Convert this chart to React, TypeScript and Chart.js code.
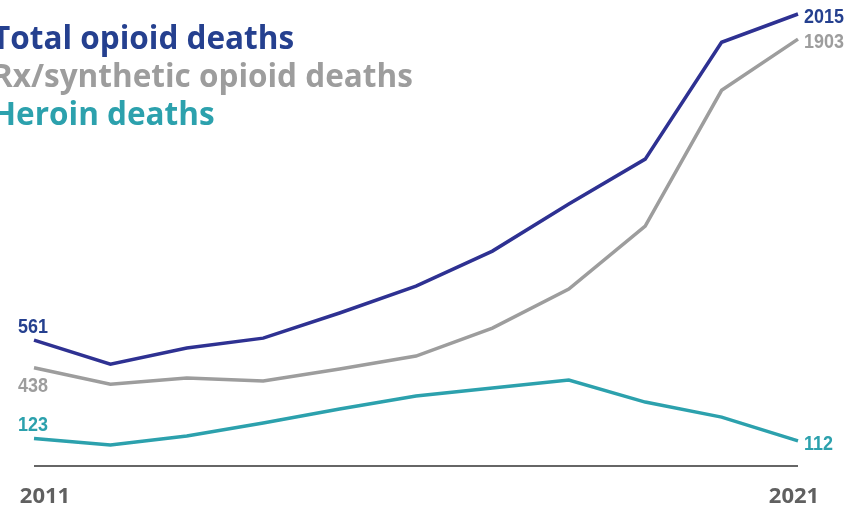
import React, { useEffect, useRef } from "react";
import { Chart, registerables } from "chart.js";

Chart.register(...registerables);

const years = ["2011", "2012", "2013", "2014", "2015", "2016", "2017", "2018", "2019", "2020", "2021"];
const totalDeaths = [561, 454, 526, 570, 682, 802, 958, 1168, 1368, 1889, 2015];
const rxDeaths = [438, 365, 392, 379, 432, 490, 615, 789, 1069, 1675, 1903];
const heroinDeaths = [123, 94, 134, 192, 254, 312, 348, 383, 285, 218, 112];
const seriesNames = ["Total opioid deaths", "Rx/synthetic opioid deaths", "Heroin deaths"];
const axisLabels = ["2011", "2021"];

const lineColors = ["#2e3192", "#9d9d9d", "#2ca1ad"];
const textColors = ["#25408f", "#9d9d9d", "#2ca1ad"];

function narrowText(ctx: any, text: string, x: number, y: number, align: "left" | "center") {
  const sx = 0.92;
  const w = ctx.measureText(text).width * sx;
  const left = align === "center" ? x - w / 2 : x;
  ctx.save();
  ctx.textAlign = "left";
  ctx.translate(left, y);
  ctx.scale(sx, 1);
  ctx.fillText(text, 0, 0);
  ctx.restore();
}

const overlay = {
  id: "overlay",
  afterDraw(chart: any) {
    const ctx = chart.ctx;
    const xs = chart.scales.x;
    const ys = chart.scales.y;
    const last = years.length - 1;
    const x0 = xs.getPixelForValue(0);
    const x1 = xs.getPixelForValue(last);
    const yZero = ys.getPixelForValue(0);
    ctx.save();
    // axis line
    ctx.strokeStyle = "#333333";
    ctx.lineWidth = 1.5;
    ctx.beginPath();
    ctx.moveTo(x0, yZero);
    ctx.lineTo(x1, yZero);
    ctx.stroke();
    // year labels
    ctx.fillStyle = "#606060";
    ctx.font = 'bold 22px "Open Sans", sans-serif';
    ctx.textBaseline = "alphabetic";
    ctx.textAlign = "center";
    ctx.fillText(axisLabels[0], x0 + 11, yZero + 37);
    ctx.fillText(axisLabels[1], x1 - 4, yZero + 37);
    // data labels
    const sets = [totalDeaths, rxDeaths, heroinDeaths];
    ctx.font = 'bold 19.5px "Liberation Sans", Arial, sans-serif';
    sets.forEach((arr, i) => {
      ctx.fillStyle = textColors[i];
      const yFirst = ys.getPixelForValue(arr[0]);
      const yLast = ys.getPixelForValue(arr[last]);
      ctx.textBaseline = "alphabetic";
      if (i === 1) {
        narrowText(ctx, String(arr[0]), x0 - 1, yFirst + 24, "center");
      } else {
        narrowText(ctx, String(arr[0]), x0 - 1, yFirst - 7, "center");
      }
      narrowText(ctx, String(arr[last]), x1 + 6, yLast + 9, "left");
    });
    // legend text
    ctx.font = 'bold 31.5px "Open Sans", sans-serif';
    ctx.textAlign = "left";
    ctx.textBaseline = "alphabetic";
    seriesNames.forEach((name, i) => {
      ctx.fillStyle = textColors[i];
      ctx.fillText(name, -8, 49 + i * 38);
    });
    ctx.restore();
  },
};

export default function App() {
  const ref = useRef<HTMLCanvasElement>(null);
  useEffect(() => {
    const canvas = ref.current;
    if (!canvas) return;
    const chart = new Chart(canvas, {
      type: "line",
      data: {
        labels: years,
        datasets: [
          { label: seriesNames[0], data: totalDeaths, borderColor: lineColors[0] },
          { label: seriesNames[1], data: rxDeaths, borderColor: lineColors[1] },
          { label: seriesNames[2], data: heroinDeaths, borderColor: lineColors[2] },
        ].map((d) => ({
          ...d,
          borderWidth: 3.5,
          pointRadius: 0,
          tension: 0,
          fill: false,
          clip: false as any,
          borderJoinStyle: "miter" as const,
        })),
      },
      options: {
        responsive: false,
        animation: false,
        layout: { padding: { left: 34, right: 60, top: 14, bottom: 43 } },
        plugins: { legend: { display: false }, tooltip: { enabled: false } },
        scales: {
          x: { type: "category", display: false, offset: false },
          y: { display: false, min: 0, max: 2015 },
        },
      },
      plugins: [overlay],
    });
    return () => chart.destroy();
  }, []);
  return (
    <div style={{ position: "fixed", left: 0, top: 0, width: 858, height: 509, background: "#fff" }}>
      <canvas ref={ref} width={858} height={509} style={{ display: "block" }} />
    </div>
  );
}
